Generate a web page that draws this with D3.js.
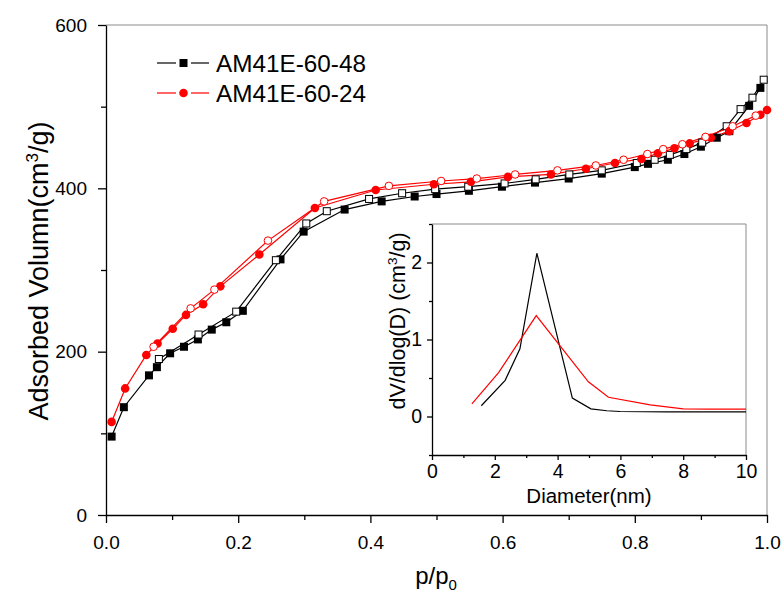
<!DOCTYPE html>
<html>
<head>
<meta charset="utf-8">
<script src="https://cdn.jsdelivr.net/npm/d3@7"></script>
<style>
  body { margin: 0; background: #fff; }
  svg { font-family: "Liberation Sans", Arial, sans-serif; }
</style>
</head>
<body>
<svg id="chart" width="781" height="597"></svg>
<script>
// isotherm data, AM41E-60-48 (black) and AM41E-60-24 (red)
let blackAdsP = [0.0085, 0.027, 0.065, 0.077, 0.097, 0.118, 0.139, 0.16, 0.182, 0.207, 0.264, 0.299, 0.361, 0.417, 0.467, 0.5, 0.549, 0.599, 0.649, 0.7, 0.75, 0.8, 0.82, 0.85, 0.875, 0.9, 0.924, 0.943, 0.973, 0.99];
let blackAdsV = [96, 132, 171, 181, 198, 206, 215, 227, 236, 250, 313, 347, 374, 384, 390, 393, 397, 402, 407, 412, 418, 426, 430, 435, 442, 451, 462, 470, 501, 523];
let blackDesP = [0.08, 0.14, 0.197, 0.257, 0.303, 0.334, 0.398, 0.448, 0.498, 0.548, 0.603, 0.65, 0.701, 0.75, 0.803, 0.83, 0.853, 0.878, 0.902, 0.939, 0.96, 0.978, 0.995];
let blackDesV = [191, 221, 249, 312, 357, 372, 387, 394, 399, 402, 406, 411, 417, 422, 431, 435, 441, 448, 456, 476, 497, 511, 533];

let redAdsP = [0.0085, 0.029, 0.061, 0.078, 0.101, 0.121, 0.147, 0.173, 0.232, 0.316, 0.408, 0.496, 0.552, 0.608, 0.673, 0.726, 0.77, 0.81, 0.835, 0.86, 0.883, 0.915, 0.943, 0.969, 0.99, 1.0];
let redAdsV = [114, 155, 196, 210, 228, 245, 258, 280, 319, 376, 398, 405, 408, 414, 417, 424, 431, 436, 443, 449, 455, 462, 470, 480, 490, 496];
let redDesP = [0.072, 0.128, 0.164, 0.245, 0.33, 0.428, 0.507, 0.561, 0.619, 0.683, 0.741, 0.783, 0.819, 0.843, 0.872, 0.907, 0.948, 0.983];
let redDesV = [206, 253, 276, 336, 384, 403, 409, 412, 417, 422, 428, 435, 442, 448, 454, 463, 476, 489];

// pore size distribution (inset)
let poreD48 = [1.57, 2.33, 2.8, 3.34, 4.47, 5.06, 5.57, 5.99, 7.48, 10];
let poreV48 = [0.14, 0.47, 0.88, 2.12, 0.24, 0.1, 0.075, 0.065, 0.06, 0.06];
let poreD24 = [1.27, 2.12, 3.32, 4.98, 5.62, 6.95, 8.0, 8.85, 10];
let poreV24 = [0.165, 0.57, 1.31, 0.45, 0.25, 0.15, 0.1, 0.095, 0.095];

let xMajor = [0, 0.2, 0.4, 0.6, 0.8, 1.0];
let xMinor = [0.1, 0.3, 0.5, 0.7, 0.9];
let yMajor = [0, 200, 400, 600];
let yMinor = [100, 300, 500];
let inXMajor = [0, 2, 4, 6, 8, 10];
let inXMinor = [1, 3, 5, 7, 9];
let inYMajor = [0, 1, 2];
let inYMinor = [-0.5, 0.5, 1.5, 2.5];

let seriesNames = ['AM41E-60-48', 'AM41E-60-24'];

let svg = d3.select('#chart');

// main plot
let pLeft = 106, pRight = 767, pTop = 25, pBottom = 515;
let x = d3.scaleLinear().domain([0, 1]).range([pLeft, pRight]);
let y = d3.scaleLinear().domain([0, 600]).range([pBottom, pTop]);

// frame (top/right grey)
svg.append('line').attr('x1', pLeft).attr('x2', pRight).attr('y1', pTop).attr('y2', pTop)
    .attr('stroke', '#8a8a8a').attr('stroke-width', 1);
svg.append('line').attr('x1', pRight).attr('x2', pRight).attr('y1', pTop).attr('y2', pBottom)
    .attr('stroke', '#8a8a8a').attr('stroke-width', 1);

function styleAxis(g, size) {
    g.select('.domain').attr('stroke', '#000').attr('stroke-width', 1.3);
    g.selectAll('.tick line').attr('stroke', '#000').attr('stroke-width', 1.3);
    g.selectAll('text').attr('fill', '#000').style('font-size', size + 'px')
        .style('font-family', '"Liberation Sans", Arial, sans-serif');
}

let gx = svg.append('g').attr('transform', 'translate(0,' + pBottom + ')')
    .call(d3.axisBottom(x).tickValues(xMajor).tickSize(8).tickPadding(13).tickSizeOuter(0).tickFormat(d3.format('.1f')));
styleAxis(gx, 19);
let gxm = svg.append('g').attr('transform', 'translate(0,' + pBottom + ')')
    .call(d3.axisBottom(x).tickValues(xMinor).tickSize(5).tickSizeOuter(0).tickFormat(''));
styleAxis(gxm, 19);
gxm.select('.domain').remove();

let gy = svg.append('g').attr('transform', 'translate(' + pLeft + ',0)')
    .call(d3.axisLeft(y).tickValues(yMajor).tickSize(8).tickPadding(11).tickSizeOuter(0).tickFormat(d3.format('d')));
styleAxis(gy, 19);
let gym = svg.append('g').attr('transform', 'translate(' + pLeft + ',0)')
    .call(d3.axisLeft(y).tickValues(yMinor).tickSize(5).tickSizeOuter(0).tickFormat(''));
styleAxis(gym, 19);
gym.select('.domain').remove();

// axis titles
let yt = svg.append('text')
    .attr('transform', 'translate(48,271) rotate(-90)')
    .attr('text-anchor', 'middle')
    .style('font-size', '27px');
yt.append('tspan').text('Adsorbed Volumn(cm');
yt.append('tspan').text('3').attr('dy', -10).style('font-size', '17px');
yt.append('tspan').text('/g)').attr('dy', 10);

let xt = svg.append('text')
    .attr('x', 436).attr('y', 584)
    .attr('text-anchor', 'middle')
    .style('font-size', '24px');
xt.append('tspan').text('p/p');
xt.append('tspan').text('0').attr('dy', 6).style('font-size', '15px');

// isotherm series
let series = [
    {p: blackAdsP, v: blackAdsV, color: '#000', shape: 'square', filled: true},
    {p: blackDesP, v: blackDesV, color: '#000', shape: 'square', filled: false},
    {p: redAdsP, v: redAdsV, color: '#ff0000', shape: 'circle', filled: true},
    {p: redDesP, v: redDesV, color: '#ff0000', shape: 'circle', filled: false}
];

let line = d3.line().x(function (d) { return x(d[0]); }).y(function (d) { return y(d[1]); });

series.forEach(function (s) {
    let pts = s.p.map(function (p, i) { return [p, s.v[i]]; });
    svg.append('path').datum(pts)
        .attr('d', line)
        .attr('fill', 'none')
        .attr('stroke', s.color)
        .attr('stroke-width', 1.2);
});

function drawMarker(g, cx, cy, s) {
    if (s.shape === 'square') {
        let sz = s.filled ? 8 : 7;
        g.append('rect')
            .attr('x', cx - sz / 2).attr('y', cy - sz / 2)
            .attr('width', sz).attr('height', sz)
            .attr('fill', s.filled ? s.color : '#fff')
            .attr('stroke', s.filled ? 'none' : s.color)
            .attr('stroke-width', 1);
    } else {
        g.append('circle')
            .attr('cx', cx).attr('cy', cy)
            .attr('r', s.filled ? 4.3 : 3.8)
            .attr('fill', s.filled ? s.color : '#fff')
            .attr('stroke', s.filled ? 'none' : s.color)
            .attr('stroke-width', 1);
    }
}

series.forEach(function (s) {
    let g = svg.append('g');
    s.p.forEach(function (p, i) {
        drawMarker(g, x(p), y(s.v[i]), s);
    });
});

// legend
seriesNames.forEach(function (name, i) {
    let s = series[i * 2];
    let ly = 63 + i * 30;
    svg.append('line').attr('x1', 157).attr('x2', 176).attr('y1', ly).attr('y2', ly)
        .attr('stroke', s.color).attr('stroke-width', 1.2);
    svg.append('line').attr('x1', 191).attr('x2', 209).attr('y1', ly).attr('y2', ly)
        .attr('stroke', s.color).attr('stroke-width', 1.2);
    drawMarker(svg, 183.5, ly, {shape: s.shape, filled: true, color: s.color});
    svg.append('text').attr('x', 216).attr('y', ly + 9)
        .style('font-size', '24.3px').text(name);
});

// inset
let iL = 432, iR = 746, iT = 224, iB = 455;
let ix = d3.scaleLinear().domain([0, 10]).range([iL, iR]);
let iy = d3.scaleLinear().domain([-0.5, 2.5]).range([iB, iT]);

svg.append('rect').attr('x', iL).attr('y', iT).attr('width', iR - iL).attr('height', iB - iT)
    .attr('fill', '#fff');
svg.append('line').attr('x1', iL).attr('x2', iR).attr('y1', iT).attr('y2', iT)
    .attr('stroke', '#8a8a8a').attr('stroke-width', 1);
svg.append('line').attr('x1', iR).attr('x2', iR).attr('y1', iT).attr('y2', iB)
    .attr('stroke', '#8a8a8a').attr('stroke-width', 1);

let igx = svg.append('g').attr('transform', 'translate(0,' + iB + ')')
    .call(d3.axisBottom(ix).tickValues(inXMajor).tickSize(5).tickPadding(4).tickSizeOuter(0).tickFormat(d3.format('d')));
styleAxis(igx, 19.5);
let igxm = svg.append('g').attr('transform', 'translate(0,' + iB + ')')
    .call(d3.axisBottom(ix).tickValues(inXMinor).tickSize(3).tickSizeOuter(0).tickFormat(''));
styleAxis(igxm, 19);
igxm.select('.domain').remove();

let igy = svg.append('g').attr('transform', 'translate(' + iL + ',0)')
    .call(d3.axisLeft(iy).tickValues(inYMajor).tickSize(5).tickPadding(5).tickSizeOuter(0).tickFormat(d3.format('d')));
styleAxis(igy, 19.5);
let igym = svg.append('g').attr('transform', 'translate(' + iL + ',0)')
    .call(d3.axisLeft(iy).tickValues(inYMinor).tickSize(3).tickSizeOuter(0).tickFormat(''));
styleAxis(igym, 19);
igym.select('.domain').remove();

let iline = d3.line().x(function (d) { return ix(d[0]); }).y(function (d) { return iy(d[1]); });
[[poreD48, poreV48, '#000'], [poreD24, poreV24, '#ff0000']].forEach(function (s) {
    let pts = s[0].map(function (dd, i) { return [dd, s[1][i]]; });
    svg.append('path').datum(pts)
        .attr('d', iline)
        .attr('fill', 'none')
        .attr('stroke', s[2])
        .attr('stroke-width', 1.2);
});

let iyt = svg.append('text')
    .attr('transform', 'translate(405,321) rotate(-90)')
    .attr('text-anchor', 'middle')
    .style('font-size', '21.5px');
iyt.append('tspan').text('dV/dlog(D) (cm');
iyt.append('tspan').text('3').attr('dy', -8).style('font-size', '13.5px');
iyt.append('tspan').text('/g)').attr('dy', 8);

svg.append('text').attr('x', 589).attr('y', 503)
    .attr('text-anchor', 'middle')
    .style('font-size', '20.5px')
    .text('Diameter(nm)');
</script>
</body>
</html>
